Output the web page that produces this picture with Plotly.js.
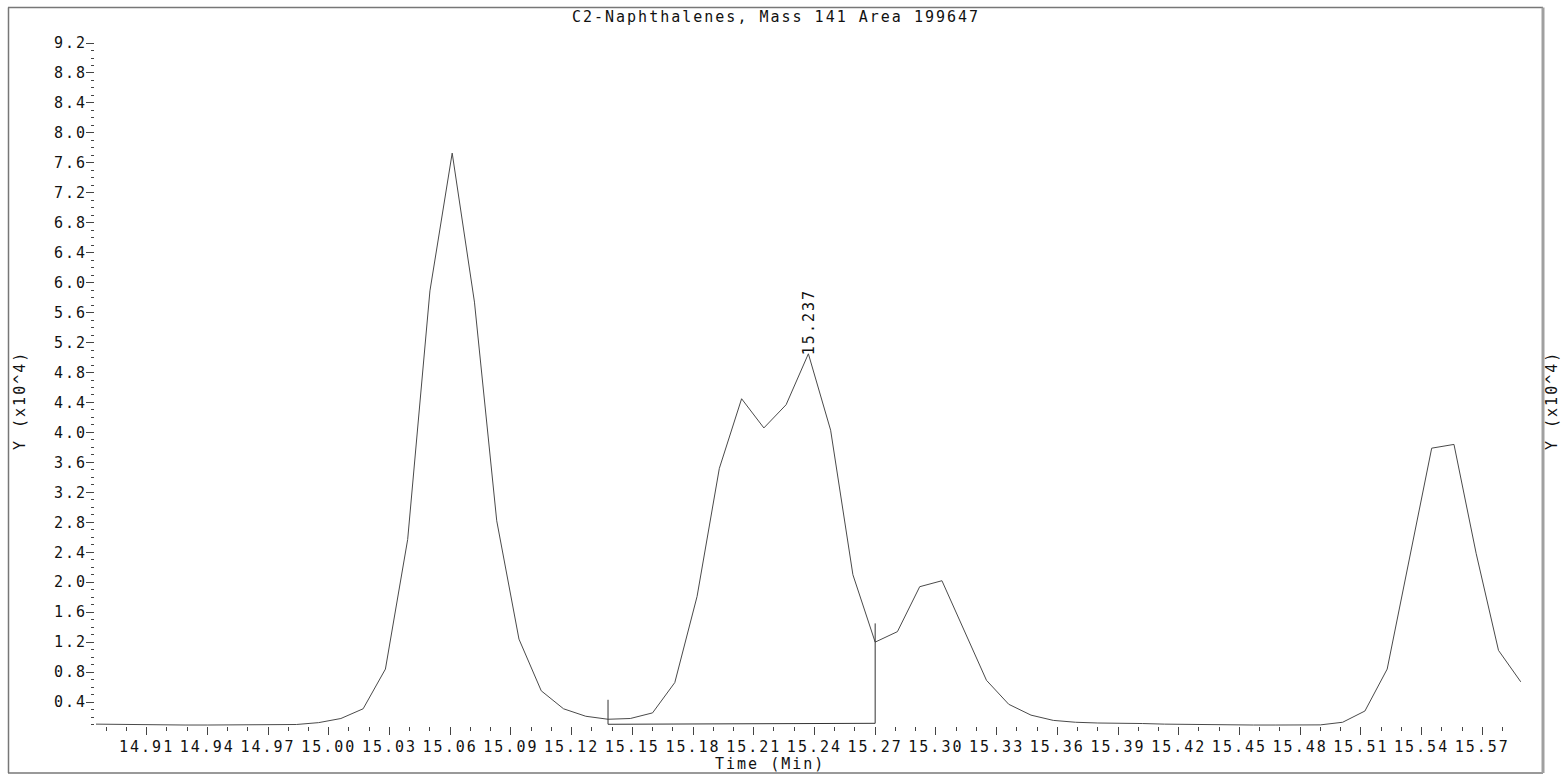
<!DOCTYPE html>
<html>
<head>
<meta charset="utf-8">
<script src="https://cdn.plot.ly/plotly-3.0.1.min.js"></script>
<style>
html,body{margin:0;padding:0;background:#fff;}
#chart{width:1562px;height:776px;}
#chart svg text{letter-spacing:2px;}
</style>
</head>
<body>
<div id="chart"></div>
<script>
// ---- data (intensity in units of 10^4) ----
const chartTitle = 'C2-Naphthalenes, Mass 141 Area 199647';
const xTitle = 'Time (Min)';
const yTitle = 'Y (x10^4)';
const times = [14.885, 14.896, 14.907, 14.918, 14.929, 14.940, 14.951, 14.962, 14.973, 14.984,
  14.995, 15.006, 15.017, 15.028, 15.039, 15.050, 15.061, 15.072, 15.083, 15.094,
  15.105, 15.116, 15.127, 15.138, 15.149, 15.160, 15.171, 15.182, 15.193, 15.204,
  15.215, 15.226, 15.237, 15.248, 15.259, 15.270, 15.281, 15.292, 15.303, 15.314,
  15.325, 15.336, 15.347, 15.358, 15.369, 15.380, 15.391, 15.402, 15.413, 15.424,
  15.435, 15.446, 15.457, 15.468, 15.479, 15.490, 15.501, 15.512, 15.523, 15.534,
  15.545, 15.556, 15.567, 15.578, 15.589];
const intensity = [0.105, 0.100, 0.095, 0.095, 0.093, 0.093, 0.093, 0.093, 0.095, 0.100,
  0.125, 0.180, 0.310, 0.840, 2.570, 5.890, 7.730, 5.740, 2.820, 1.240,
  0.550, 0.310, 0.210, 0.170, 0.180, 0.255, 0.660, 1.810, 3.520, 4.450,
  4.060, 4.370, 5.050, 4.030, 2.100, 1.200, 1.340, 1.940, 2.020, 1.360,
  0.690, 0.370, 0.225, 0.155, 0.130, 0.120, 0.120, 0.113, 0.105, 0.100,
  0.095, 0.093, 0.093, 0.093, 0.093, 0.095, 0.130, 0.280, 0.840, 2.300,
  3.790, 3.840, 2.380, 1.090, 0.670];
// integration baseline of the labelled peak
const baselineTimes = [15.138, 15.270];
const baselineLevels = [0.103, 0.116];
const markerTops = [0.43, 1.45];
const peakLabel = '15.237';
const peakTime = 15.237;
const peakValue = 5.05;
const xTickLabels = ['14.91','14.94','14.97','15.00','15.03','15.06','15.09','15.12','15.15','15.18',
  '15.21','15.24','15.27','15.30','15.33','15.36','15.39','15.42','15.45','15.48','15.51','15.54','15.57'];
const yTickLabels = ['0.4','0.8','1.2','1.6','2.0','2.4','2.8','3.2','3.6','4.0','4.4','4.8',
  '5.2','5.6','6.0','6.4','6.8','7.2','7.6','8.0','8.4','8.8','9.2'];

// ---- layout geometry (pixels) ----
const W = 1562, H = 776;
const L = 95, R = 1542, T = 38, B = 726;
const px = p => (p - L) / (R - L);
const py = p => (B - p) / (B - T);

const xMinor = [];
for (let i = 0; i <= 69; i++) xMinor.push(+(14.89 + i * 0.01).toFixed(2));

const font = {family: 'DejaVu Sans Mono', size: 15, color: '#111'};
const lineCol = '#4a4a4a';

const traces = [
  {x: times, y: intensity, type: 'scatter', mode: 'lines',
   line: {color: lineCol, width: 1}, hoverinfo: 'skip'},
  {x: [baselineTimes[0], baselineTimes[0], baselineTimes[1], baselineTimes[1]],
   y: [markerTops[0], baselineLevels[0], baselineLevels[1], markerTops[1]],
   type: 'scatter', mode: 'lines', line: {color: '#333', width: 1}, hoverinfo: 'skip'}
];

const frameCol = '#777';
const layout = {
  width: W, height: H,
  margin: {l: L, r: W - R, t: T, b: H - B, pad: 0},
  paper_bgcolor: '#fff', plot_bgcolor: '#fff',
  showlegend: false,
  font: font,
  title: {text: chartTitle, x: 776 / W, xanchor: 'center', y: 1 - 17 / H, yanchor: 'middle',
          font: font},
  xaxis: {
    range: [14.8845, 15.5995],
    tickmode: 'array', tickvals: xTickLabels.map(Number), ticktext: xTickLabels,
    ticks: 'outside', ticklen: 8, tickwidth: 1, tickcolor: '#444', tickangle: 0,
    showline: false, showgrid: false, zeroline: false,
    tickfont: font, ticklabelstandoff: -1,
    minor: {tickmode: 'array', tickvals: xMinor, ticks: 'outside', ticklen: 4, tickwidth: 1,
            tickcolor: '#444', showgrid: false}
  },
  yaxis: {
    range: [0.08, 9.267],
    tickmode: 'array', tickvals: yTickLabels.map(Number), ticktext: yTickLabels,
    ticks: 'outside', ticklen: 8, tickwidth: 1, tickcolor: '#444',
    showline: false, showgrid: false, zeroline: false,
    tickfont: font, ticklabelstandoff: -4,
    minor: {tickmode: 'linear', tick0: 0, dtick: 0.1, ticks: 'outside', ticklen: 3, tickwidth: 1,
            tickcolor: '#444', showgrid: false}
  },
  annotations: [
    {text: xTitle, xref: 'paper', yref: 'paper', x: px(770), y: py(764),
     xanchor: 'center', yanchor: 'middle', showarrow: false, font: font},
    {text: yTitle, xref: 'paper', yref: 'paper', x: px(20), y: py(401), textangle: -90,
     xanchor: 'center', yanchor: 'middle', showarrow: false, font: font},
    {text: yTitle, xref: 'paper', yref: 'paper', x: px(1552), y: py(401), textangle: -90,
     xanchor: 'center', yanchor: 'middle', showarrow: false, font: font},
    {text: peakLabel, xref: 'x', yref: 'y', x: peakTime, y: peakValue, textangle: -90,
     xanchor: 'center', yanchor: 'bottom', yshift: 3, showarrow: false, font: font}
  ],
  shapes: [
    {type: 'line', xref: 'paper', yref: 'paper', x0: px(8.5), x1: px(8.5), y0: py(7.5), y1: py(773),
     line: {color: frameCol, width: 1.5}},
    {type: 'line', xref: 'paper', yref: 'paper', x0: px(8), x1: px(1543), y0: py(7.5), y1: py(7.5),
     line: {color: frameCol, width: 1.5}},
    {type: 'line', xref: 'paper', yref: 'paper', x0: px(8), x1: px(1543), y0: py(773), y1: py(773),
     line: {color: frameCol, width: 1.5}},
    {type: 'line', xref: 'paper', yref: 'paper', x0: px(1543), x1: px(1543), y0: py(7.5), y1: py(773),
     line: {color: '#a0a0a0', width: 3}}
  ]
};

Plotly.newPlot('chart', traces, layout, {displayModeBar: false, staticPlot: true});
</script>
</body>
</html>
